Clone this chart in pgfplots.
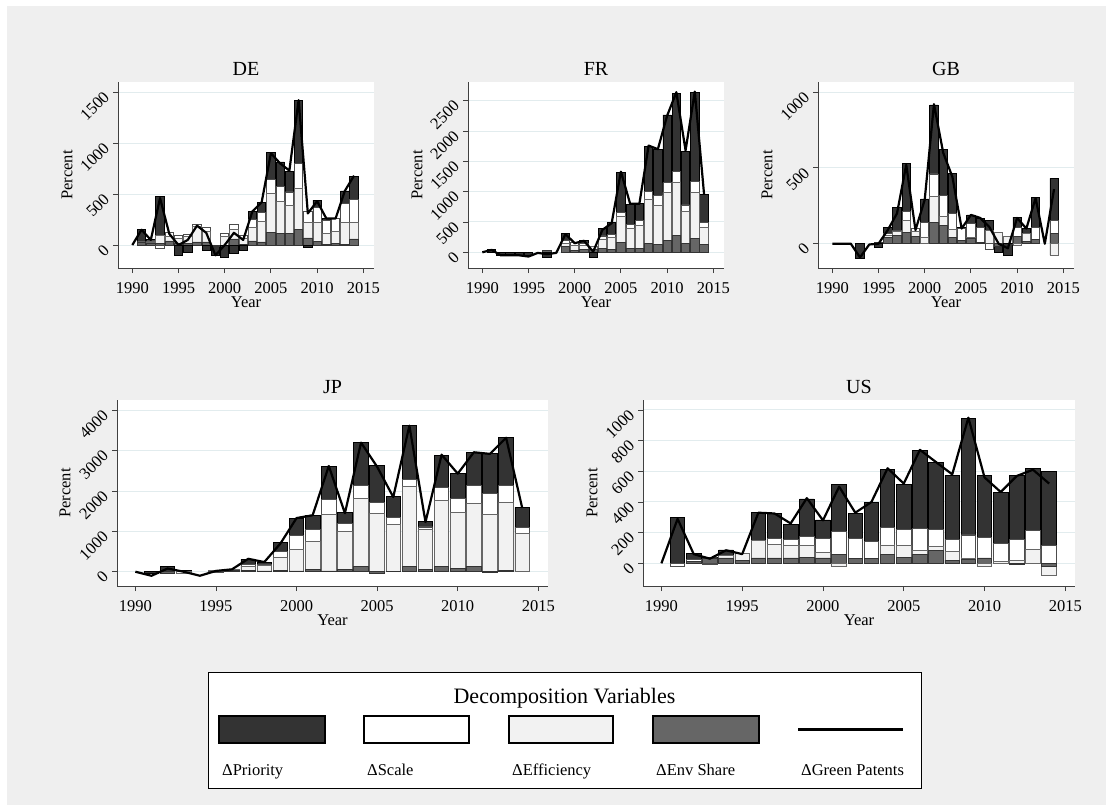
\documentclass[border=0pt]{standalone}
\usepackage{fontspec}
\setmainfont{Liberation Serif}
\usepackage{pgfplots}
\usepackage{pgfplotstable}
\pgfplotsset{compat=1.18}

\definecolor{bg}{RGB}{239,239,239}
\definecolor{gridc}{RGB}{226,236,238}
\definecolor{cpri}{RGB}{51,51,51}
\definecolor{ceff}{RGB}{242,242,242}
\definecolor{cenv}{RGB}{102,102,102}

\newcommand{\fs}{\fontsize{16.5}{18}\selectfont}
\newcommand{\ft}{\fontsize{20}{22}\selectfont}
\newcommand{\fl}{\fontsize{16.5}{18}\selectfont}
\newcommand{\flt}{\fontsize{22}{24}\selectfont}

% columns: year, env share, efficiency, scale, priority, green patents (line)
\pgfplotstableread{
year env eff sca pri tot
1990 0 0 0 0 0
1991 30 0 0 127 150
1992 20 10 10 15 50
1993 20 70 -30 390 460
1994 40 40 40 0 110
1995 20 50 25 -100 0
1996 20 60 28 -70 50
1997 30 150 20 0 190
1998 30 100 43 -50 120
1999 -10 0 0 -90 -100
2000 0 80 30 -125 0
2001 60 90 50 -80 120
2002 10 60 25 -50 50
2003 40 130 80 83 330
2004 30 200 90 98 420
2005 125 380 140 260 900
2006 110 320 140 244 800
2007 110 280 130 205 730
2008 150 410 240 615 1420
2009 70 150 110 -20 310
2010 35 185 150 71 430
2011 10 100 130 25 260
2012 20 110 135 0 260
2013 10 210 190 120 530
2014 60 160 230 223 680
}\DEdata

\pgfplotstableread{
year env eff sca pri tot
1990 0 0 0 0 0
1991 0 0 0 50 40
1992 0 0 0 -50 -50
1993 0 0 0 -50 -50
1994 0 0 0 -45 -50
1995 0 0 0 -55 -70
1996 0 0 0 0 -10
1997 30 0 0 -80 -30
1998 0 0 0 0 -10
1999 90 60 40 120 300
2000 30 80 55 0 150
2001 40 70 40 48 190
2002 40 50 0 -80 10
2003 60 160 50 125 370
2004 50 200 40 205 480
2005 165 430 65 660 1330
2006 70 330 60 330 800
2007 70 370 80 280 800
2008 150 730 120 750 1760
2009 130 650 160 760 1700
2010 200 790 160 1115 2250
2011 280 880 170 1290 2640
2012 140 530 110 885 1680
2013 230 760 180 1467 2650
2014 130 280 80 470 960
}\FRdata

\pgfplotstableread{
year env eff sca pri tot
1990 0 0 0 0 0
1991 0 0 0 0 0
1992 0 0 0 0 0
1993 0 0 0 -95 -90
1994 0 0 0 0 -5
1995 10 0 0 -25 0
1996 40 15 10 43 90
1997 55 25 10 152 200
1998 75 80 60 315 520
1999 50 30 20 3 90
2000 0 45 95 155 290
2001 140 170 150 455 920
2002 120 60 140 300 600
2003 40 55 105 265 440
2004 20 0 80 8 100
2005 35 5 95 55 190
2006 10 0 100 57 170
2007 0 90 -40 64 110
2008 -15 75 0 -45 0
2009 0 50 0 -75 -30
2010 50 -10 60 66 170
2011 15 50 0 36 100
2012 30 0 75 203 300
2013 0 0 0 0 0
2014 65 -75 90 275 360
}\GBdata

\pgfplotstableread{
year env eff sca pri tot
1990 0 0 0 0 0
1991 0 0 0 -50 -100
1992 -30 0 0 130 80
1993 0 -30 0 40 0
1994 0 0 0 0 -100
1995 0 40 -20 0 20
1996 30 30 0 0 60
1997 30 100 40 136 320
1998 20 130 40 41 240
1999 40 310 150 227 700
2000 20 540 340 422 1330
2001 60 700 290 338 1400
2002 20 1390 380 821 2620
2003 60 940 190 273 1450
2004 120 1700 310 1077 3200
2005 -30 1440 270 918 2600
2006 10 1170 160 520 1850
2007 120 2000 160 1340 3620
2008 60 990 60 130 1230
2009 140 1620 330 786 2900
2010 90 1380 340 628 2430
2011 120 1570 440 820 2960
2012 -20 1420 510 1004 2920
2013 30 1680 420 1192 3320
2014 0 950 140 505 1580
}\JPdata

\pgfplotstableread{
year env eff sca pri tot
1990 0 0 0 0 0
1991 0 0 -20 302 290
1992 15 0 10 40 60
1993 30 5 -10 5 30
1994 35 15 0 37 85
1995 20 45 0 0 60
1996 35 115 0 183 330
1997 35 90 35 166 325
1998 35 85 35 99 260
1999 40 75 60 245 425
2000 35 35 95 118 280
2001 55 -20 150 312 500
2002 30 0 130 166 330
2003 30 0 110 258 400
2004 55 65 115 375 620
2005 40 75 105 295 520
2006 60 25 140 512 740
2007 85 25 110 439 660
2008 20 60 75 419 580
2009 25 10 150 761 950
2010 35 -20 135 404 560
2011 0 15 115 333 465
2012 -10 20 135 419 570
2013 0 90 125 402 610
2014 -20 -60 115 483 520
}\USdata

\pgfplotsset{
  panel/.style={
    scale only axis, anchor=north west, height=186pt,
    axis background/.style={fill=white},
    axis x line*=bottom, axis y line*=left,
    axis line style={-, draw=black!75, line width=1pt},
    tick align=outside, major tick length=5pt,
    tick style={draw=black!75, line width=0.9pt},
    xtick={1990,1995,...,2015}, minor tick num=0,
    ymajorgrids, grid style={draw=gridc, line width=1pt},
    /pgf/number format/.cd, 1000 sep={}, assume math mode=true, /pgfplots/.cd,
    tick label style={font=\fs},
    xticklabel style={anchor=base, yshift=-20pt},
    yticklabel style={xshift=-4pt, rotate=45, anchor=east},
    xlabel=Year, ylabel=Percent,
    label style={font=\fs},
    xlabel style={at={(axis description cs:0.5,-0.2124)}, anchor=base},
    title style={font=\ft, at={(axis description cs:0.5,1)}, anchor=base, yshift=1pt},
  },
  ylabpos/.style={ylabel style={at={(axis description cs:#1,0.5)}, anchor=center}},
  pos/.style={restrict y to domain=0.5:100000},
  neg/.style={restrict y to domain=-100000:-0.5},
  pribar/.style={ybar, bar width=0.9, fill=cpri, draw=black, line width=0.8pt},
  scabar/.style={ybar, bar width=0.9, fill=white, draw=black!70, line width=0.8pt},
  effbar/.style={ybar, bar width=0.9, fill=ceff, draw=black!60, line width=0.8pt},
  envbar/.style={ybar, bar width=0.9, fill=cenv, draw=black!80, line width=0.8pt},
  gline/.style={black, line width=2.2pt, mark=none, line join=round},
}

\newcommand{\panelplots}[1]{%
  \addplot[pribar, pos] table[x=year, y expr={max(\thisrow{env},0)+max(\thisrow{eff},0)+max(\thisrow{sca},0)+max(\thisrow{pri},0)}]{#1};
  \addplot[scabar, pos] table[x=year, y expr={max(\thisrow{env},0)+max(\thisrow{eff},0)+max(\thisrow{sca},0)}]{#1};
  \addplot[effbar, pos] table[x=year, y expr={max(\thisrow{env},0)+max(\thisrow{eff},0)}]{#1};
  \addplot[envbar, pos] table[x=year, y expr={max(\thisrow{env},0)}]{#1};
  \addplot[pribar, neg] table[x=year, y expr={min(\thisrow{env},0)+min(\thisrow{eff},0)+min(\thisrow{sca},0)+min(\thisrow{pri},0)}]{#1};
  \addplot[scabar, neg] table[x=year, y expr={min(\thisrow{env},0)+min(\thisrow{eff},0)+min(\thisrow{sca},0)}]{#1};
  \addplot[effbar, neg] table[x=year, y expr={min(\thisrow{env},0)+min(\thisrow{eff},0)}]{#1};
  \addplot[envbar, neg] table[x=year, y expr={min(\thisrow{env},0)}]{#1};
  \addplot[gline] table[x=year, y=tot]{#1};
}

\begin{document}
\begin{tikzpicture}
\fill[white] (0pt,0pt) rectangle (1113pt,-811pt);
\fill[bg] (7pt,-6pt) rectangle (1106pt,-805pt);

\begin{axis}[panel, at={(118pt,-82pt)}, width=256pt,
  xmin=1988.45, xmax=2016.16, ymin=-225, ymax=1598,
  ytick={0,500,1000,1500}, title=DE, ylabpos=-0.1992]
\panelplots{\DEdata}
\end{axis}

\begin{axis}[panel, at={(468pt,-82pt)}, width=256pt,
  xmin=1988.45, xmax=2016.16, ymin=-259, ymax=2808,
  ytick={0,500,1000,1500,2000,2500}, title=FR, ylabpos=-0.1992]
\panelplots{\FRdata}
\end{axis}

\begin{axis}[panel, at={(818pt,-82pt)}, width=256pt,
  xmin=1988.45, xmax=2016.16, ymin=-160, ymax=1066,
  ytick={0,500,1000}, title=GB, ylabpos=-0.1992]
\panelplots{\GBdata}
\end{axis}

\begin{axis}[panel, at={(117pt,-400pt)}, width=431pt,
  xmin=1988.86, xmax=2015.6, ymin=-354, ymax=4255,
  ytick={0,1000,2000,3000,4000}, title=JP, ylabpos=-0.1206]
\panelplots{\JPdata}
\end{axis}

\begin{axis}[panel, at={(643pt,-400pt)}, width=432pt,
  xmin=1988.86, xmax=2015.6, ymin=-148, ymax=1065,
  ytick={0,200,400,600,800,1000}, title=US, ylabpos=-0.118]
\panelplots{\USdata}
\end{axis}

% legend
\draw[black, line width=1pt, fill=white] (208pt,-672pt) rectangle (921pt,-788pt);
\node[font=\flt] at (564.5pt,-698pt) {Decomposition Variables};
\draw[fill=cpri, draw=black, line width=1.2pt] (219pt,-716pt) rectangle (325pt,-743pt);
\draw[fill=white, draw=black, line width=1.2pt] (364pt,-716pt) rectangle (469pt,-743pt);
\draw[fill=ceff, draw=black, line width=1.2pt] (509pt,-716pt) rectangle (613pt,-743pt);
\draw[fill=cenv, draw=black, line width=1.2pt] (653pt,-716pt) rectangle (759pt,-743pt);
\draw[black, line width=2.5pt] (798pt,-729.5pt) -- (903pt,-729.5pt);
\node[anchor=base west, font=\fl, inner sep=0pt] at (222pt,-775pt) {ΔPriority};
\node[anchor=base west, font=\fl, inner sep=0pt] at (367pt,-775pt) {ΔScale};
\node[anchor=base west, font=\fl, inner sep=0pt] at (512pt,-775pt) {ΔEfficiency};
\node[anchor=base west, font=\fl, inner sep=0pt] at (656pt,-775pt) {ΔEnv Share};
\node[anchor=base west, font=\fl, inner sep=0pt] at (801pt,-775pt) {ΔGreen Patents};
\end{tikzpicture}
\end{document}
